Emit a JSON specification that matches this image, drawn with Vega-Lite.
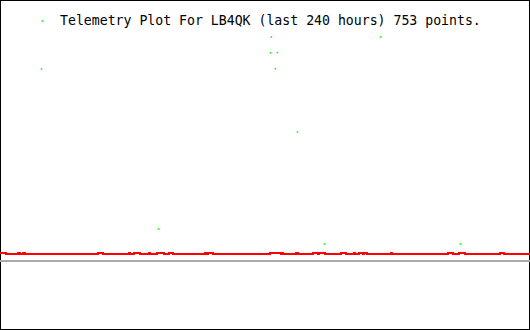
{
  "$schema": "https://vega.github.io/schema/vega-lite/v6.json",
  "width": 530,
  "height": 330,
  "padding": 0,
  "autosize": {"type": "none"},
  "background": "white",
  "title": {
    "text": "Telemetry Plot For LB4QK (last 240 hours) 753 points.",
    "orient": "top",
    "anchor": "start",
    "frame": "group",
    "offset": -38,
    "dx": 60,
    "baseline": "alphabetic",
    "font": "DejaVu Sans Mono",
    "fontSize": 13.2,
    "fontWeight": "normal",
    "color": "black"
  },
  "config": {"view": {"stroke": "black", "strokeWidth": 2}},
  "datasets": {
    "ref": [{"hour": 0, "hourEnd": 240, "value": 69}],
    "red": [
      {"hour": 0, "value": 77}, {"hour": 2.72, "value": 76}, {"hour": 8.15, "value": 77}, {"hour": 9.06, "value": 76},
      {"hour": 10.42, "value": 77}, {"hour": 11.32, "value": 76}, {"hour": 44.38, "value": 77}, {"hour": 46.64, "value": 76},
      {"hour": 58.42, "value": 77}, {"hour": 58.87, "value": 76}, {"hour": 60.68, "value": 77}, {"hour": 63.4, "value": 76},
      {"hour": 67.47, "value": 77}, {"hour": 67.92, "value": 76}, {"hour": 71.09, "value": 77}, {"hour": 74.26, "value": 76},
      {"hour": 76.53, "value": 77}, {"hour": 78.34, "value": 76}, {"hour": 92.83, "value": 77}, {"hour": 93.28, "value": 76},
      {"hour": 94.19, "value": 77}, {"hour": 96.45, "value": 76}, {"hour": 122.26, "value": 77}, {"hour": 127.25, "value": 76},
      {"hour": 127.7, "value": 77}, {"hour": 128.15, "value": 76}, {"hour": 134.04, "value": 77}, {"hour": 134.94, "value": 76},
      {"hour": 141.74, "value": 77}, {"hour": 144.0, "value": 76}, {"hour": 144.45, "value": 77}, {"hour": 147.17, "value": 76},
      {"hour": 154.42, "value": 77}, {"hour": 156.68, "value": 76}, {"hour": 160.3, "value": 77}, {"hour": 160.75, "value": 76},
      {"hour": 162.57, "value": 77}, {"hour": 164.38, "value": 76}, {"hour": 164.83, "value": 77}, {"hour": 166.19, "value": 76},
      {"hour": 177.06, "value": 77}, {"hour": 177.51, "value": 76}, {"hour": 202.87, "value": 77}, {"hour": 205.13, "value": 76},
      {"hour": 207.85, "value": 77}, {"hour": 210.57, "value": 76}, {"hour": 226.42, "value": 77}, {"hour": 228.23, "value": 76},
      {"hour": 240, "value": 76}
    ],
    "green": [
      {"hour": 19.2, "value": 309},
      {"hour": 18.8, "value": 261},
      {"hour": 122.9, "value": 293},
      {"hour": 122.5, "value": 277.3},
      {"hour": 125.6, "value": 277.3},
      {"hour": 124.7, "value": 261.3},
      {"hour": 172.3, "value": 293},
      {"hour": 134.7, "value": 198},
      {"hour": 71.8, "value": 101},
      {"hour": 146.9, "value": 86},
      {"hour": 208.5, "value": 86}
    ]
  },
  "layer": [
    {
      "data": {"name": "ref"},
      "mark": {"type": "rule", "color": "#aaaaaa", "strokeWidth": 2},
      "encoding": {
        "x": {"field": "hour", "type": "quantitative", "scale": {"domain": [0, 240], "nice": false, "zero": false}, "axis": null},
        "x2": {"field": "hourEnd"},
        "y": {"field": "value", "type": "quantitative", "scale": {"domain": [0, 330], "nice": false, "zero": false}, "axis": null}
      }
    },
    {
      "data": {"name": "red"},
      "mark": {"type": "line", "color": "#ff0000", "strokeWidth": 2, "interpolate": "step-after", "clip": true},
      "encoding": {
        "x": {"field": "hour", "type": "quantitative", "scale": {"domain": [0, 240], "nice": false, "zero": false}, "axis": null},
        "y": {"field": "value", "type": "quantitative", "scale": {"domain": [0, 330], "nice": false, "zero": false}, "axis": null}
      }
    },
    {
      "data": {"name": "green"},
      "mark": {"type": "point", "shape": "square", "filled": true, "size": 2.5, "color": "#00ff00", "opacity": 1},
      "encoding": {
        "x": {"field": "hour", "type": "quantitative", "scale": {"domain": [0, 240], "nice": false, "zero": false}, "axis": null},
        "y": {"field": "value", "type": "quantitative", "scale": {"domain": [0, 330], "nice": false, "zero": false}, "axis": null}
      }
    }
  ]
}
